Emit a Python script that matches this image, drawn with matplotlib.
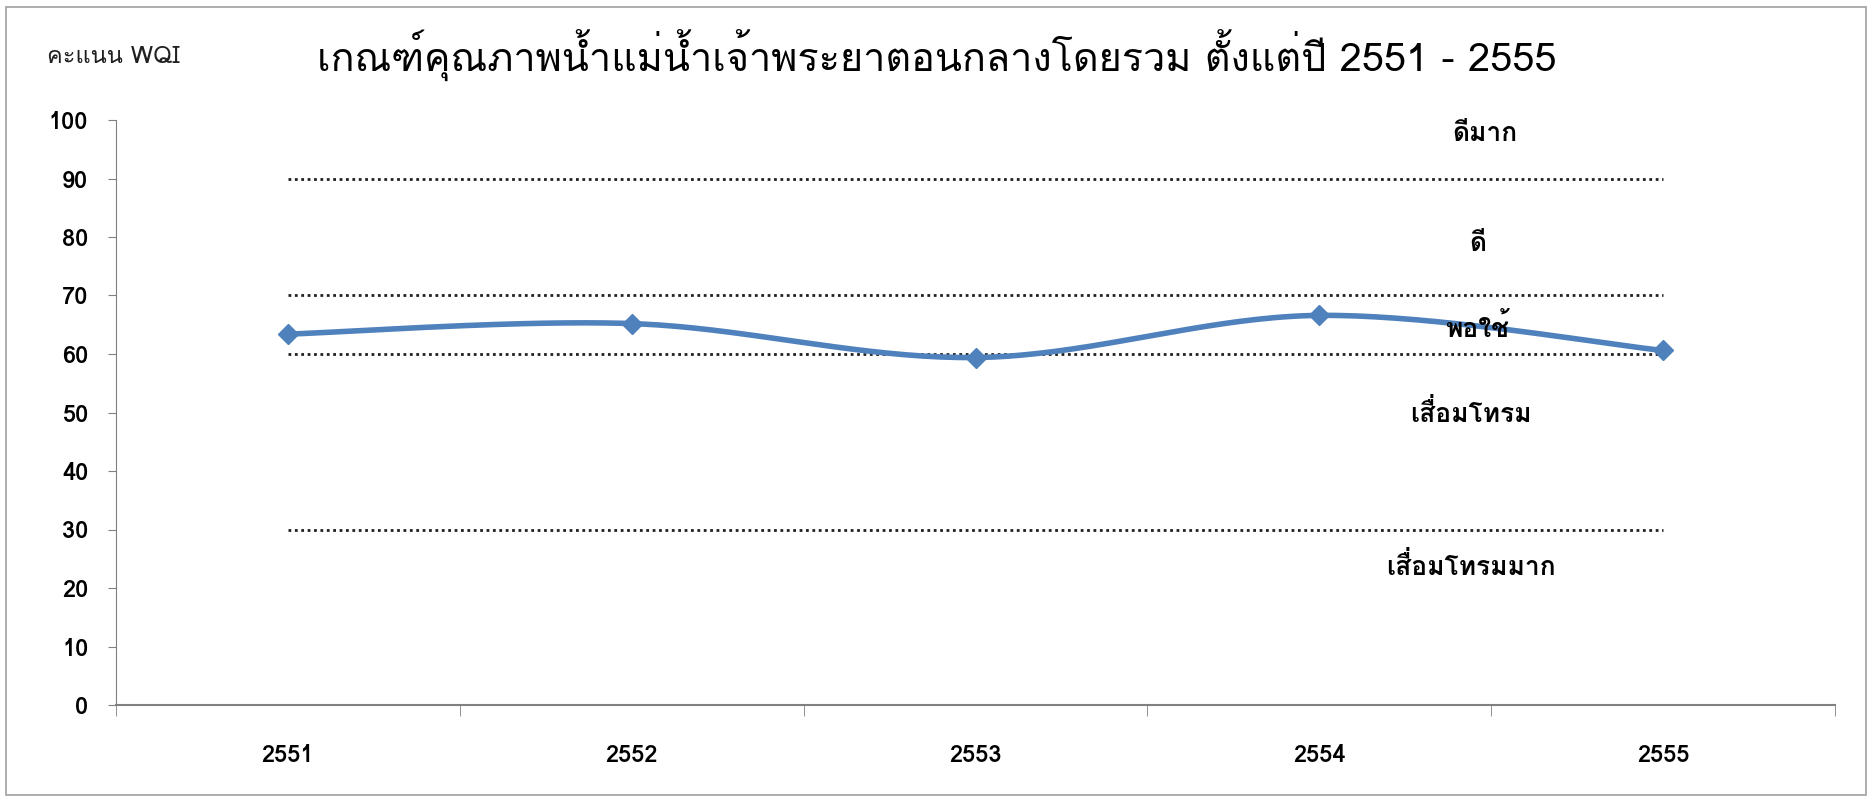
import matplotlib
matplotlib.use("Agg")
import matplotlib.pyplot as plt
from matplotlib import font_manager
from matplotlib.ft2font import FT2Font
import numpy as np

years = ["2551", "2552", "2553", "2554", "2555"]
wqi = [63.4, 65.2, 59.4, 66.6, 60.6]

# class boundaries drawn as dotted lines
bounds = [90, 70, 60, 30]
band_labels = ["ดีมาก", "ดี", "พอใช้", "เสื่อมโทรม", "เสื่อมโทรมมาก"]
band_label_x = [3.48, 3.46, 3.46, 3.44, 3.44]
band_label_y = [97.6, 78.8, 64.5, 50.0, 23.7]

title = "เกณฑ์คุณภาพน้ำแม่น้ำเจ้าพระยาตอนกลางโดยรวม ตั้งแต่ปี 2551 - 2555"
ylabel = "คะแนน WQI"


# find an installed font that has Thai glyphs
def thai_family():
    for f in font_manager.fontManager.ttflist:
        try:
            ft = FT2Font(f.fname)
            if ft.get_char_index(ord("ก")) and ft.get_char_index(ord("A")):
                return f.name
        except Exception:
            pass
    return None


fam = thai_family()
families = ([fam] if fam else []) + ["DejaVu Sans"]
plt.rcParams["font.family"] = families


def smooth(xs, ys, n=40):
    # Catmull-Rom style bezier like a smoothed office line
    xs = np.asarray(xs, float)
    ys = np.asarray(ys, float)
    px = np.concatenate([[xs[0]], xs, [xs[-1]]])
    py = np.concatenate([[ys[0]], ys, [ys[-1]]])
    ox, oy = [], []
    t = np.linspace(0, 1, n)
    for i in range(1, len(px) - 2):
        p0 = np.array([px[i], py[i]])
        p3 = np.array([px[i + 1], py[i + 1]])
        p1 = p0 + (np.array([px[i + 1], py[i + 1]]) - np.array([px[i - 1], py[i - 1]])) / 6
        p2 = p3 - (np.array([px[i + 2], py[i + 2]]) - np.array([px[i], py[i]])) / 6
        b = ((1 - t) ** 3)[:, None] * p0 + (3 * (1 - t) ** 2 * t)[:, None] * p1 \
            + (3 * (1 - t) * t ** 2)[:, None] * p2 + (t ** 3)[:, None] * p3
        ox.extend(b[:, 0])
        oy.extend(b[:, 1])
    return ox, oy


fig = plt.figure(figsize=(18.72, 8.01), dpi=100)
ax = fig.add_axes([116 / 1872, 1 - 705 / 801, (1835 - 116) / 1872, (705 - 120) / 801])

x = np.arange(len(years))
for b in bounds:
    ax.plot(x, [b] * len(x), color="#202020", linestyle=(0, (1, 1.3)), linewidth=2)

sx, sy = smooth(x, wqi)
ax.plot(sx, sy, color="#4f81bd", linewidth=4, solid_capstyle="round", zorder=3)
ax.plot(x, wqi, linestyle="none", marker="D", markersize=10, color="#4f81bd", zorder=4)

for lab, xx, yy in zip(band_labels, band_label_x, band_label_y):
    ax.text(xx, yy, lab, ha="center", va="center", fontsize=19, fontweight="bold",
            color="black", zorder=5)

ax.set_xlim(-0.5, 4.5)
ax.set_ylim(0, 100)
ax.set_yticks(range(0, 101, 10))
ax.set_xticks(x)
ax.set_xticklabels(years)
ax.set_xticks(np.arange(-0.5, 4.6, 1), minor=True)
ax.tick_params(axis="x", which="major", length=0, pad=28, labelsize=17)
ax.tick_params(axis="x", which="minor", length=8, direction="out", color="#808080")
ax.tick_params(axis="y", length=6, direction="out", color="#808080", labelsize=17, pad=14)
for lab in ax.get_xticklabels() + ax.get_yticklabels():
    lab.set_fontweight("bold")
for s in ["top", "right"]:
    ax.spines[s].set_visible(False)
ax.spines["left"].set_color("#808080")
ax.spines["bottom"].set_color("#808080")
ax.spines["bottom"].set_linewidth(1.5)

fig.text(937 / 1872, 1 - 56 / 801, title, ha="center", va="center", fontsize=28.5)
fig.text(95 / 1568, 1 - 47 / 671, ylabel, ha="center", va="center", fontsize=17, color="#202020")

# outer frame like the chart area border
frame = plt.Rectangle((6 / 1872, 6 / 801), 1 - 12 / 1872, 1 - 13 / 801, transform=fig.transFigure,
                      fill=False, edgecolor="#a0a0a0", linewidth=1.2)
fig.patches.append(frame)

fig.savefig("out.png", dpi=100)
